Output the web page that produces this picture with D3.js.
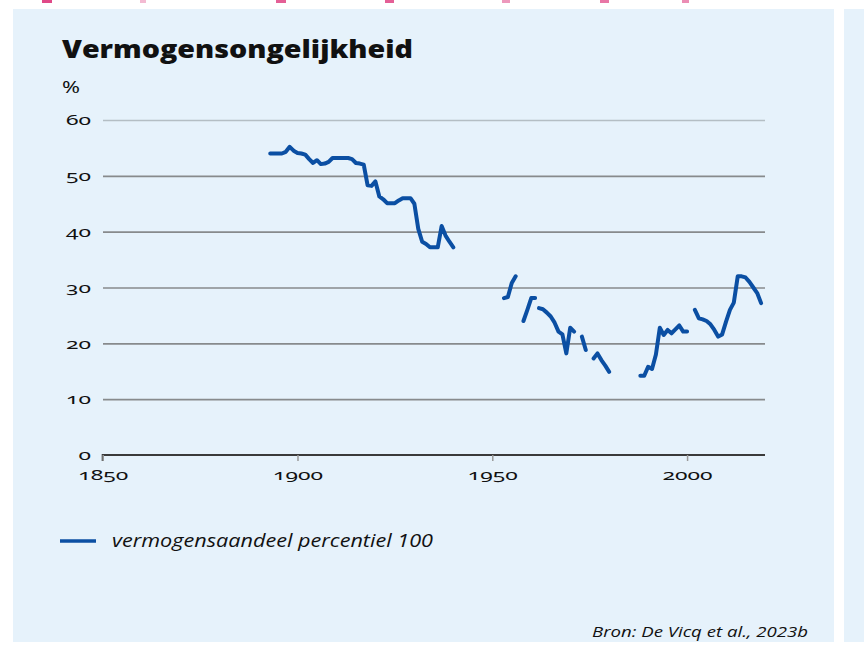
<!DOCTYPE html>
<html>
<head>
<meta charset="utf-8">
<script src="https://cdn.jsdelivr.net/npm/d3@7/dist/d3.min.js"></script>
<style>
  html, body { margin: 0; padding: 0; background: #ffffff; }
  svg { display: block; }
  .tick text { font-family: "Noto Sans", sans-serif; font-feature-settings: "onum" 1; font-variant-numeric: oldstyle-nums; }
</style>
</head>
<body>
<svg id="chart" width="864" height="660"></svg>
<script>
// ---- data ----
const title = "Vermogensongelijkheid";
const unitLabel = "%";
const seriesName = "vermogensaandeel percentiel 100";
const sourceText = "Bron: De Vicq et al., 2023b";

const yTicks = [0, 10, 20, 30, 40, 50, 60];
const xTicks = [1850, 1900, 1950, 2000];

// years with null entries marking gaps in the series
const years = [
  1893, 1894, 1895, 1896, 1897, 1898, 1899, 1900, 1901, 1902,
  1903, 1904, 1905, 1906, 1907, 1908, 1909, 1910, 1911, 1912,
  1913, 1914, 1915, 1916, 1917, 1918, 1919, 1920, 1921, 1922,
  1923, 1924, 1925, 1926, 1927, 1928, 1929, 1930, 1931, 1932,
  1933, 1934, 1935, 1936, 1937, 1938, 1939, 1940, 1941,
  1953, 1954, 1955, 1956, 1957,
  1958, 1959, 1960, 1961, 1961.5,
  1962, 1963, 1964, 1965, 1966, 1967, 1968, 1969, 1970, 1971, 1972,
  1973, 1974, 1975,
  1976, 1977, 1978, 1979, 1980, 1981,
  1988, 1989, 1990, 1991, 1992, 1993, 1994, 1995, 1996, 1997, 1998, 1999, 2000, 2001,
  2002, 2003, 2004, 2005, 2006, 2007, 2008, 2009, 2010, 2011, 2012, 2013, 2014, 2015,
  2016, 2017, 2018, 2019
];
const share = [
  54.0, 54.0, 54.0, 54.0, 54.3, 55.2, 54.5, 54.1, 54.0, 53.8,
  53.0, 52.3, 52.8, 52.1, 52.2, 52.5, 53.2, 53.2, 53.2, 53.2,
  53.2, 53.0, 52.3, 52.2, 52.0, 48.3, 48.2, 49.0, 46.3, 45.8,
  45.1, 45.1, 45.1, 45.6, 46.0, 46.0, 46.0, 45.0, 40.5, 38.2,
  37.8, 37.2, 37.2, 37.2, 41.0, 39.3, 38.2, 37.2, null,
  28.1, 28.3, 30.8, 32.0, null,
  24.0, 26.0, 28.1, 28.1, null,
  26.3, 26.1, 25.5, 24.8, 23.7, 22.1, 21.6, 18.2, 22.8, 22.1, null,
  21.2, 18.8, null,
  17.3, 18.2, 17.0, 16.0, 14.9, null,
  14.2, 14.2, 15.8, 15.4, 18.0, 22.8, 21.5, 22.4, 21.8, 22.5, 23.2, 22.1, 22.1, null,
  26.0, 24.5, 24.3, 24.0, 23.4, 22.4, 21.2, 21.6, 23.9, 26.0, 27.3, 32.0, 32.0, 31.8,
  31.0, 30.0, 29.0, 27.2
];

// ---- layout ----
const W = 864, H = 660;
const plot = { left: 103, right: 765, top: 120, bottom: 455 };
const panelColor = "#e6f2fb";
const lineColor = "#0b4fa3";

const svg = d3.select("#chart");

// page background + panels
svg.append("rect").attr("x", 0).attr("y", 0).attr("width", W).attr("height", H).attr("fill", "#ffffff");
svg.append("rect").attr("x", 13).attr("y", 9).attr("width", 821).attr("height", 633).attr("fill", panelColor);
svg.append("rect").attr("x", 844).attr("y", 9).attr("width", 30).attr("height", 633).attr("fill", panelColor);

// cropped pink text remnants at the top edge (decoration)
const pinkBits = [[42, 10, 0.8], [140, 6, 0.3], [276, 10, 0.7], [385, 9, 0.7], [502, 8, 0.45], [600, 9, 0.6], [682, 7, 0.5]];
svg.selectAll("rect.pink").data(pinkBits).enter().append("rect")
  .attr("class", "pink")
  .attr("x", d => d[0]).attr("y", 0).attr("width", d => d[1]).attr("height", 3)
  .attr("fill", "#d81b6a").attr("opacity", d => d[2]);

// scales
const x = d3.scaleLinear().domain([1850, 2020]).range([plot.left - 0.3, plot.right]);
const y = d3.scaleLinear().domain([0, 60]).range([plot.bottom, plot.top]);

// title
svg.append("text")
  .attr("x", 62).attr("y", 58)
  .attr("font-family", "'Open Sans', sans-serif")
  .attr("font-weight", 800)
  .attr("font-size", 24)
  .attr("textLength", 351).attr("lengthAdjust", "spacingAndGlyphs")
  .attr("fill", "#111")
  .text(title);

// unit label
svg.append("text")
  .attr("x", 62).attr("y", 93)
  .attr("font-family", "'Noto Sans', sans-serif")
  .attr("font-size", 16)
  .attr("textLength", 18).attr("lengthAdjust", "spacingAndGlyphs")
  .attr("fill", "#111")
  .text(unitLabel);

// y axis with gridlines
const yAxis = d3.axisLeft(y)
  .tickValues(yTicks)
  .tickSize(-(plot.right - plot.left))
  .tickPadding(12)
  .tickFormat(d3.format("d"));
const gy = svg.append("g").attr("transform", `translate(${plot.left},0)`).call(yAxis);
gy.select(".domain").remove();
gy.selectAll(".tick line")
  .attr("stroke", d => d === 60 ? "#b4bec4" : "#878a8c")
  .attr("stroke-width", 1.6)
  .attr("opacity", d => d === 0 ? 0 : 1);
gy.selectAll(".tick text")
  .attr("font-size", 15)
  .attr("fill", "#111")
  .attr("textLength", d => String(d).length * 12.5)
  .attr("lengthAdjust", "spacingAndGlyphs");

// x axis
const xAxis = d3.axisBottom(x)
  .tickValues(xTicks)
  .tickSize(6)
  .tickPadding(8)
  .tickFormat(d3.format("d"));
const gx = svg.append("g").attr("transform", `translate(0,${plot.bottom})`).call(xAxis);
gx.select(".domain").attr("stroke", "#3a3a3a").attr("stroke-width", 2)
  .attr("d", `M${x(1850)},6V0H${plot.right}`);
gx.selectAll(".tick line").attr("stroke", "#9a9a9a").attr("stroke-width", 1.5);
gx.selectAll(".tick text")
  .attr("font-size", 15)
  .attr("fill", "#111")
  .attr("textLength", d => String(d).length * 12.5)
  .attr("lengthAdjust", "spacingAndGlyphs");

// series line
const pts = years.map((yr, i) => ({ year: yr, v: share[i] }));
const line = d3.line()
  .defined(d => d.v !== null)
  .x(d => x(d.year))
  .y(d => y(d.v));
svg.append("path")
  .datum(pts)
  .attr("fill", "none")
  .attr("stroke", lineColor)
  .attr("stroke-width", 4)
  .attr("stroke-linejoin", "round")
  .attr("stroke-linecap", "round")
  .attr("d", line);

// legend
const lg = svg.append("g").attr("transform", "translate(60,541)");
lg.append("line")
  .attr("x1", 0).attr("x2", 36).attr("y1", 0).attr("y2", 0)
  .attr("stroke", lineColor).attr("stroke-width", 3.4);
lg.append("text")
  .attr("x", 52).attr("y", 6)
  .attr("font-family", "'Open Sans', sans-serif")
  .attr("font-style", "italic")
  .attr("font-size", 17.5)
  .attr("textLength", 321).attr("lengthAdjust", "spacingAndGlyphs")
  .attr("fill", "#111")
  .text(seriesName);

// source
svg.append("text")
  .attr("x", 808).attr("y", 637)
  .attr("text-anchor", "end")
  .attr("font-family", "'Open Sans', sans-serif")
  .attr("font-style", "italic")
  .attr("font-size", 14.5)
  .attr("textLength", 216).attr("lengthAdjust", "spacingAndGlyphs")
  .attr("fill", "#111")
  .text(sourceText);
</script>
</body>
</html>
